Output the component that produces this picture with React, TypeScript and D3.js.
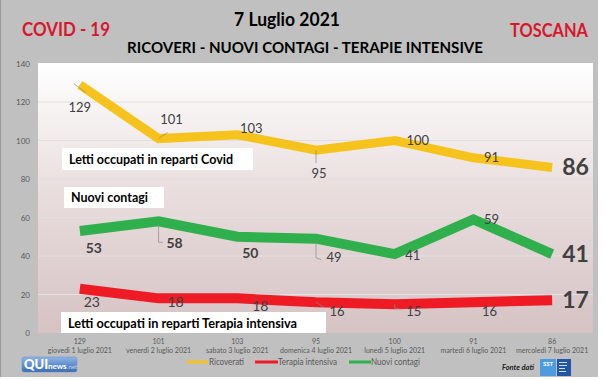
import React from "react";
import * as d3 from "d3";

const categories = [
  "giovedì 1 luglio 2021",
  "venerdì 2 luglio 2021",
  "sabato 3 luglio 2021",
  "domenica 4 luglio 2021",
  "lunedì 5 luglio 2021",
  "martedì 6 luglio 2021",
  "mercoledì 7 luglio 2021",
];
const ricoverati = [129, 101, 103, 95, 100, 91, 86];
const terapiaIntensiva = [23, 18, 18, 16, 15, 16, 17];
const nuoviContagi = [53, 58, 50, 49, 41, 59, 41];
const yTicks = [0, 20, 40, 60, 80, 100, 120, 140];

// label layout offsets (dx, dy from point; big = last value bold)
const ricLabelOff = [[0, 23], [13, -19], [14, -6], [3, 23], [23, 0], [18, 0]];
const nuoLabelOff = [[14, 17], [16, 22], [13, 16], [18, 18], [18, 1], [18, 0]];
const nuoBold = [true, true, true, false, false, false];
const terLabelOff = [[12, 13], [17, 4], [23, 8], [21, 9], [19, 7], [16, 9]];

const W = 605;
const H = 380;
const FONT = "Lato, 'Open Sans', sans-serif";
const YELLOW = "#f6c31c";
const RED = "#ee1b24";
const GREEN = "#2fb04c";
const TITLE_RED = "#d8172c";
const LABEL = "#404040";
const AXIS = "#595959";

export default function App() {
  const x = d3.scaleBand<number>().domain(d3.range(7)).range([40.5, 591.5]);
  const cx = (i: number) => (x(i) as number) + x.bandwidth() / 2;
  const y = d3.scaleLinear().domain([0, 140]).range([333, 63.5]);
  const line = d3
    .line<number>()
    .x((_, i) => cx(i))
    .y((d) => y(d));

  const series = [
    { data: ricoverati, color: YELLOW, w: 9 },
    { data: terapiaIntensiva, color: RED, w: 10 },
    { data: nuoviContagi, color: GREEN, w: 10 },
  ];

  return (
    <svg
      width={W}
      height={H}
      style={{ position: "absolute", left: 0, top: 0 }}
      fontFamily={FONT}
    >
      <defs>
        <linearGradient id="plotbg" x1="0" y1="0" x2="0" y2="1">
          <stop offset="0" stopColor="#ffffff" />
          <stop offset="0.5" stopColor="#e8dcdc" />
          <stop offset="1" stopColor="#d6c3c4" />
        </linearGradient>
        <linearGradient id="qui" x1="0" y1="0" x2="0" y2="1">
          <stop offset="0" stopColor="#8db4e6" />
          <stop offset="1" stopColor="#3a6db5" />
        </linearGradient>
      </defs>
      <rect x={0} y={0} width={W} height={H} fill="#ffffff" />
      <rect x={0} y={0} width={598} height={377} fill="#c0c0c0" />
      <line x1={0.5} y1={0} x2={0.5} y2={377} stroke="#9a9a9a" />

      {/* titles */}
      <text x={22} y={36} fill={TITLE_RED} fontWeight={700} fontSize={18} textLength={88} lengthAdjust="spacingAndGlyphs">
        COVID - 19
      </text>
      <text x={287} y={26} fill="#000" fontWeight={700} fontSize={18} textAnchor="middle" textLength={106} lengthAdjust="spacingAndGlyphs">
        7 Luglio 2021
      </text>
      <text x={305} y={53} fill="#000" fontWeight={700} fontSize={15} textAnchor="middle" textLength={356} lengthAdjust="spacingAndGlyphs">
        RICOVERI - NUOVI CONTAGI - TERAPIE INTENSIVE
      </text>
      <text x={588} y={37} fill={TITLE_RED} fontWeight={700} fontSize={18} textAnchor="end" textLength={78} lengthAdjust="spacingAndGlyphs">
        TOSCANA
      </text>

      {/* plot area */}
      <rect x={38} y={63} width={555} height={270} fill="url(#plotbg)" />
      {yTicks.slice(1, -1).map((t) => (
        <line key={t} x1={38} x2={593} y1={y(t)} y2={y(t)} stroke="#e4dfdf" strokeWidth={1} />
      ))}
      {yTicks.map((t) => (
        <text key={t} x={30} y={y(t) + 3} fontSize={8} fill={AXIS} textAnchor="end">
          {t}
        </text>
      ))}

      {/* x labels */}
      {categories.map((c, i) => (
        <g key={c}>
          <text x={cx(i)} y={344} fontSize={7} fill={AXIS} textAnchor="middle">
            {ricoverati[i]}
          </text>
          <text x={cx(i)} y={353} fontSize={7} fill={AXIS} textAnchor="middle">
            {c}
          </text>
        </g>
      ))}

      {/* lines */}
      {series.map((s) => (
        <path
          key={s.color}
          d={line(s.data) as string}
          fill="none"
          stroke={s.color}
          strokeWidth={s.w}
          strokeLinejoin="miter"
        />
      ))}

      {/* leader lines */}
      <g stroke="#8a8a8a" strokeWidth={0.7} fill="none">
        <path d={`M${cx(0) - 6},${y(ricoverati[0]) - 1} L${cx(0) + 6},${y(ricoverati[0]) + 8}`} />
        <path d={`M${cx(1)},${y(ricoverati[1])} L${cx(1) + 9},${y(ricoverati[1]) - 6}`} />
        <path d={`M${cx(3)},${y(ricoverati[3])} L${cx(3)},${y(ricoverati[3]) + 13}`} />
        <path d={`M${cx(1)},${y(nuoviContagi[1]) + 2} L${cx(1)},${y(nuoviContagi[1]) + 21} L${cx(1) + 4},${y(nuoviContagi[1]) + 21}`} />
        <path d={`M${cx(3)},${y(nuoviContagi[3]) + 1} L${cx(3)},${y(nuoviContagi[3]) + 19} L${cx(3) + 5},${y(nuoviContagi[3]) + 21}`} />
        <path d={`M${cx(3)},${y(terapiaIntensiva[3])} L${cx(3) + 8},${y(terapiaIntensiva[3]) + 5}`} />
        <path d={`M${cx(4)},${y(terapiaIntensiva[4])} L${cx(4)},${y(terapiaIntensiva[4]) + 4} L${cx(4) + 6},${y(terapiaIntensiva[4]) + 5}`} />
      </g>

      {/* data labels */}
      {ricoverati.slice(0, 6).map((v, i) => (
        <text key={"r" + i} x={cx(i) + ricLabelOff[i][0]} y={y(v) + ricLabelOff[i][1] + 4.5} fontSize={13} fill={LABEL} textAnchor="middle">
          {v}
        </text>
      ))}
      {nuoviContagi.slice(0, 6).map((v, i) => (
        <text key={"n" + i} x={cx(i) + nuoLabelOff[i][0]} y={y(v) + nuoLabelOff[i][1] + 5} fontSize={nuoBold[i] ? 14 : 13} fontWeight={nuoBold[i] ? 700 : 400} fill={LABEL} textAnchor="middle">
          {v}
        </text>
      ))}
      {terapiaIntensiva.slice(0, 6).map((v, i) => (
        <text key={"t" + i} x={cx(i) + terLabelOff[i][0]} y={y(v) + terLabelOff[i][1] + 5} fontSize={i < 3 ? 14 : 13} fill={LABEL} textAnchor="middle">
          {v}
        </text>
      ))}
      {series.map((s) => (
        <text key={"big" + s.color} x={cx(6) + 10} y={y(s.data[6]) + 8} fontSize={23} fontWeight={700} fill={LABEL}>
          {s.data[6]}
        </text>
      ))}

      {/* annotation boxes */}
      <rect x={62} y={148} width={191} height={22} fill="#ffffff" />
      <text x={69} y={164} fontSize={13} fontWeight={700} fill="#000" textLength={164} lengthAdjust="spacingAndGlyphs">
        Letti occupati in reparti Covid
      </text>
      <rect x={64} y={187} width={100} height={21} fill="#ffffff" />
      <text x={71} y={202} fontSize={13} fontWeight={700} fill="#000" textLength={77} lengthAdjust="spacingAndGlyphs">
        Nuovi contagi
      </text>
      <rect x={61} y={312} width={265} height={21} fill="#ffffff" />
      <text x={68} y={328} fontSize={14} fontWeight={700} fill="#000" textLength={229} lengthAdjust="spacingAndGlyphs">
        Letti occupati in reparti Terapia intensiva
      </text>

      {/* legend */}
      <line x1={187} x2={208} y1={362} y2={362} stroke={YELLOW} strokeWidth={3} />
      <text x={209} y={365} fontSize={9} fill={AXIS} textLength={35} lengthAdjust="spacingAndGlyphs">Ricoverati</text>
      <line x1={255} x2={278} y1={362} y2={362} stroke={RED} strokeWidth={3} />
      <text x={278} y={365} fontSize={9} fill={AXIS} textLength={59} lengthAdjust="spacingAndGlyphs">Terapia intensiva</text>
      <line x1={349} x2={371} y1={362} y2={362} stroke={GREEN} strokeWidth={3} />
      <text x={371} y={365} fontSize={9} fill={AXIS} textLength={49} lengthAdjust="spacingAndGlyphs">Nuovi contagi</text>

      {/* QUInews logo */}
      <rect x={22} y={357} width={55} height={15} rx={2} fill="url(#qui)" stroke="#6f8fc0" strokeWidth={0.5} />
      <text x={24} y={369} fontSize={13} fontWeight={900} fill="#ffffff">QUI</text>
      <text x={48} y={369} fontSize={8} fontWeight={700} fill="#ffffff">news</text>
      <text x={67} y={369} fontSize={6} fill="#c8d4e6">.net</text>

      {/* Fonte dati */}
      <text x={502} y={370} fontSize={8} fontStyle="italic" fontWeight={700} fill="#222" textLength={32} lengthAdjust="spacingAndGlyphs">
        Fonte dati
      </text>
      <rect x={540} y={359} width={16} height={17} fill="#4f9be0" />
      <text x={548} y={366} fontSize={6} fontWeight={700} fill="#fff" textAnchor="middle">SST</text>
      <rect x={557} y={359} width={14} height={17} fill="#2456a6" />
      <g fill="#cfe0f5">
        <rect x={559} y={362} width={8} height={1} />
        <rect x={559} y={365} width={8} height={1} />
        <rect x={559} y={368} width={6} height={1} />
        <rect x={559} y={371} width={7} height={1} />
      </g>
    </svg>
  );
}
